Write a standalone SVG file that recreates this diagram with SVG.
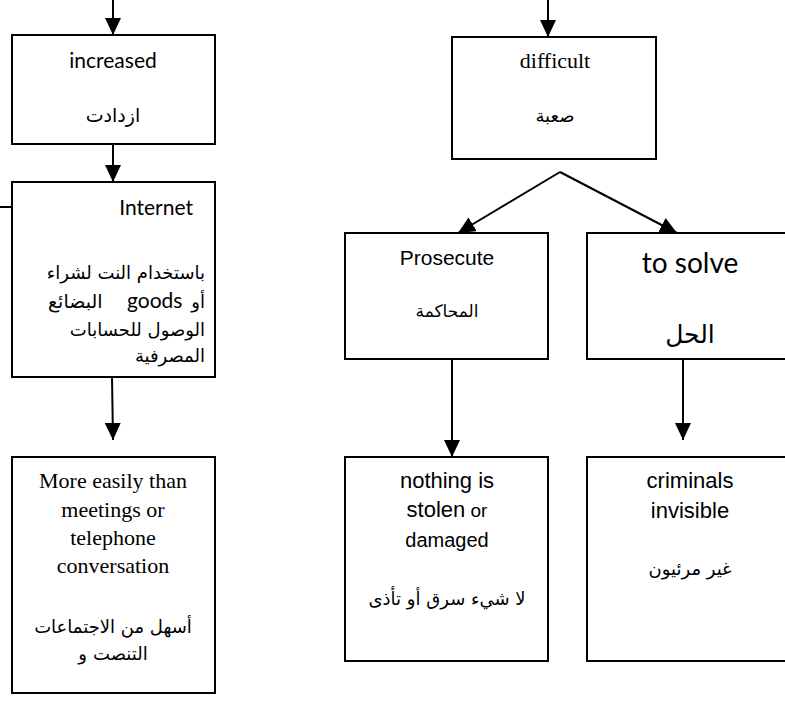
<svg xmlns="http://www.w3.org/2000/svg" width="785" height="704" viewBox="0 0 785 704">
  <defs>
    <marker id="arrow" markerUnits="userSpaceOnUse" markerWidth="17" markerHeight="16" refX="17" refY="8" orient="auto">
      <path d="M0,0 L17,8 L0,16 z" fill="#000"/>
    </marker>
  </defs>
  <style>
    .box { fill: #fff; stroke: #000; stroke-width: 2; }
    .conn { fill: none; stroke: #000; stroke-width: 2; }
    .cal { font-family: Lato, "DejaVu Sans", sans-serif; fill: #000; }
    .ari { font-family: "Liberation Sans", "DejaVu Sans", sans-serif; fill: #000; }
    .tms { font-family: "Liberation Serif", "DejaVu Sans", serif; fill: #000; }
    .ar { font-family: "DejaVu Sans", sans-serif; fill: #000; }
    .c { text-anchor: middle; }
    .e { text-anchor: end; }
    .s { text-anchor: start; }
  </style>

  <!-- connectors -->
  <g id="connectors">
    <line class="conn" x1="113" y1="0" x2="113" y2="35" marker-end="url(#arrow)"/>
    <line class="conn" x1="113" y1="144" x2="113" y2="182" marker-end="url(#arrow)"/>
    <line class="conn" x1="0" y1="207" x2="12" y2="207"/>
    <line class="conn" x1="112" y1="377" x2="113" y2="440" marker-end="url(#arrow)"/>
    <line class="conn" x1="548" y1="0" x2="548" y2="37" marker-end="url(#arrow)"/>
    <line class="conn" x1="560" y1="172" x2="458" y2="233" marker-end="url(#arrow)"/>
    <line class="conn" x1="560" y1="172" x2="677" y2="233" marker-end="url(#arrow)"/>
    <line class="conn" x1="452" y1="359" x2="452" y2="457" marker-end="url(#arrow)"/>
    <line class="conn" x1="683" y1="359" x2="683" y2="440" marker-end="url(#arrow)"/>
  </g>

  <!-- left column -->
  <g id="increased">
    <rect class="box" x="12" y="35" width="203" height="109"/>
    <text class="cal c" x="113" y="68" font-size="21">increased</text>
    <text class="ar c" x="113" y="122" font-size="19">ازدادت</text>
  </g>

  <g id="internet">
    <rect class="box" x="12" y="182" width="203" height="195"/>
    <text class="cal e" x="193" y="215" font-size="21">Internet</text>
    <text class="ar e" x="205" y="279" font-size="18">باستخدام النت لشراء</text>
    <!-- mixed Arabic/Latin line: each word set on its own -->
    <text class="ar s" x="48" y="308" font-size="19">البضائع</text>
    <text class="cal s" x="127" y="308" font-size="21">goods</text>
    <text class="ar e" x="205" y="308" font-size="18">أو</text>
    <text class="ar e" x="205" y="336" font-size="18">الوصول للحسابات</text>
    <text class="ar e" x="205" y="362" font-size="18">المصرفية</text>
  </g>

  <g id="more-easily">
    <rect class="box" x="12" y="457" width="203" height="236"/>
    <text class="tms c" x="113" y="488" font-size="22">More easily than</text>
    <text class="tms c" x="113" y="517" font-size="22">meetings or</text>
    <text class="tms c" x="113" y="545" font-size="22">telephone</text>
    <text class="tms c" x="113" y="573" font-size="22">conversation</text>
    <text class="ar c" x="113" y="633" font-size="18">أسهل من الاجتماعات</text>
    <text class="ar e" x="87" y="660" font-size="18">و</text>
    <text class="ar s" x="93" y="660" font-size="18">التنصت</text>
  </g>

  <!-- right column -->
  <g id="difficult">
    <rect class="box" x="452" y="37" width="204" height="122"/>
    <text class="tms c" x="555" y="68" font-size="22">difficult</text>
    <text class="ar c" x="555" y="122" font-size="18">صعبة</text>
  </g>

  <g id="prosecute">
    <rect class="box" x="345" y="233" width="203" height="126"/>
    <text class="ari c" x="447" y="265" font-size="21">Prosecute</text>
    <text class="ar c" x="447" y="317" font-size="17">المحاكمة</text>
  </g>

  <g id="to-solve">
    <rect class="box" x="587" y="233" width="220" height="126"/>
    <text class="cal c" x="690" y="273" font-size="28">to solve</text>
    <text class="ar c" x="690" y="343" font-size="25">الحل</text>
  </g>

  <g id="nothing-stolen">
    <rect class="box" x="345" y="457" width="203" height="204"/>
    <text class="ari c" x="447" y="488" font-size="22">nothing is</text>
    <text class="ari c" x="447" y="517"><tspan font-size="22">stolen</tspan><tspan font-size="19"> or</tspan></text>
    <text class="ari c" x="447" y="547" font-size="20">damaged</text>
    <text class="ar c" x="447" y="605" font-size="18">لا شيء سرق أو تأذى</text>
  </g>

  <g id="criminals">
    <rect class="box" x="587" y="457" width="220" height="204"/>
    <text class="ari c" x="690" y="488" font-size="22">criminals</text>
    <text class="ari c" x="690" y="518" font-size="22">invisible</text>
    <text class="ar c" x="690" y="575" font-size="18">غير مرئيون</text>
  </g>
</svg>
